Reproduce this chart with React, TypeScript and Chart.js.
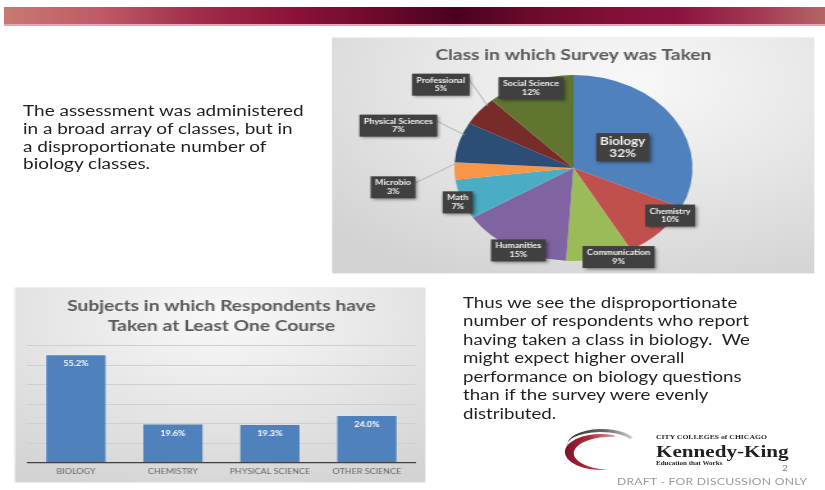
import React, { useEffect, useRef } from "react";
import { Chart, registerables } from "chart.js";

Chart.register(...registerables);

// ---- data ----
const pieTitle = "Class in which Survey was Taken";
const pieCategories = [
  "Biology",
  "Chemistry",
  "Communication",
  "Humanities",
  "Math",
  "Microbio",
  "Physical Sciences",
  "Professional",
  "Social Science",
];
const pieValues = [32, 10, 9, 15, 7, 3, 7, 5, 12];

const barTitle = ["Subjects in which Respondents have", "Taken at Least One Course"];
const barCategories = ["BIOLOGY", "CHEMISTRY", "PHYSICAL SCIENCE", "OTHER SCIENCE"];
const barValues = [55.2, 19.6, 19.3, 24.0];
const barAxisMax = 60;
const barAxisStep = 10;

// ---- styles / placement (not data) ----
const STRETCH = 1.28;
const pieColors = [
  "#4f81bd",
  "#c0504d",
  "#9bbb59",
  "#8064a2",
  "#4bacc6",
  "#f79646",
  "#2c4d75",
  "#772c2a",
  "#5f7530",
];
const pieLabelRadius = [0.47, 0.96, 1.03, 1.0, 1.04, 1.53, 1.54, 1.43, 0.93];
const pieLabelShift = [4, -11, -9, -3, -1, -6, 1, 1, -1];
const FONT = "Lato, 'Noto Sans', sans-serif";

const pieLabelPlugin = {
  id: "pieLabels",
  afterDatasetsDraw(chart: any) {
    const ctx = chart.ctx as CanvasRenderingContext2D;
    const meta = chart.getDatasetMeta(0);
    const total = pieValues.reduce((a, b) => a + b, 0);
    meta.data.forEach((arc: any, i: number) => {
      const p = arc.getProps(["x", "y", "startAngle", "endAngle", "outerRadius"], true);
      const midRaw = (p.startAngle + p.endAngle) / 2;
      const mid = midRaw + (pieLabelShift[i] * Math.PI) / 180;
      const f = pieLabelRadius[i];
      const lx = p.x + Math.cos(mid) * p.outerRadius * f;
      const ly = p.y + Math.sin(mid) * p.outerRadius * f;
      const big = i === 0;
      const fontSize = big ? 10.5 : 7;
      const lineH = big ? 12 : 8.5;
      const padX = big ? 3 : 3.5;
      const padY = big ? 2 : 2.5;
      ctx.save();
      ctx.font = `bold ${fontSize}px ${FONT}`;
      const pct = Math.round((pieValues[i] / total) * 100) + "%";
      const lines = [pieCategories[i], pct];
      const w = Math.max(...lines.map((l) => ctx.measureText(l).width)) + 2 * padX;
      const h = lines.length * lineH + 2 * padY;
      if (f > 1.2) {
        const ea = midRaw + (5 * Math.PI) / 180;
        const ex = p.x + Math.cos(ea) * p.outerRadius * 0.98;
        const ey = p.y + Math.sin(ea) * p.outerRadius * 0.98;
        const sx = lx + w / 2;
        const sy = ly - h * 0.2;
        ctx.strokeStyle = "#a6a6a6";
        ctx.lineWidth = 0.8;
        ctx.beginPath();
        ctx.moveTo(sx, sy);
        ctx.lineTo(ex, ey);
        ctx.stroke();
      }
      ctx.save();
      ctx.shadowColor = "rgba(0,0,0,0.45)";
      ctx.shadowBlur = 3;
      ctx.shadowOffsetX = 1.5;
      ctx.shadowOffsetY = 1.5;
      ctx.fillStyle = "#404040";
      ctx.fillRect(lx - w / 2, ly - h / 2, w, h);
      ctx.restore();
      ctx.fillStyle = "#f2f2f2";
      ctx.textAlign = "center";
      ctx.textBaseline = "middle";
      lines.forEach((l, k) => {
        ctx.fillText(l, lx, ly - h / 2 + padY + lineH * (k + 0.5));
      });
      ctx.restore();
    });
  },
};

const barValuePlugin = {
  id: "barValues",
  afterDatasetsDraw(chart: any) {
    const ctx = chart.ctx as CanvasRenderingContext2D;
    const meta = chart.getDatasetMeta(0);
    ctx.save();
    ctx.font = `bold 7px ${FONT}`;
    ctx.fillStyle = "#ffffff";
    ctx.textAlign = "center";
    ctx.textBaseline = "middle";
    meta.data.forEach((bar: any, i: number) => {
      ctx.fillText(barValues[i].toFixed(1) + "%", bar.x, bar.y + 9);
    });
    ctx.restore();
  },
};

const abs = (left: number, top: number, extra: React.CSSProperties = {}): React.CSSProperties => ({
  position: "absolute",
  left,
  top,
  ...extra,
});

export default function App() {
  const pieRef = useRef<HTMLCanvasElement>(null);
  const barRef = useRef<HTMLCanvasElement>(null);

  useEffect(() => {
    const pie = new Chart(pieRef.current as HTMLCanvasElement, {
      type: "pie",
      data: {
        labels: pieCategories,
        datasets: [{ data: pieValues, backgroundColor: pieColors, borderWidth: 0 }],
      },
      options: {
        responsive: false,
        animation: false,
        layout: { padding: { top: 0, bottom: 12, left: 0, right: 0 } },
        plugins: {
          legend: { display: false },
          tooltip: { enabled: false },
          title: {
            display: true,
            text: pieTitle,
            color: "#595959",
            font: { family: FONT, size: 15, weight: "bold", lineHeight: 1.2 },
            padding: { top: 8, bottom: 11 },
          },
        },
      },
      plugins: [pieLabelPlugin],
    } as any);

    const bar = new Chart(barRef.current as HTMLCanvasElement, {
      type: "bar",
      data: {
        labels: barCategories,
        datasets: [
          {
            data: barValues,
            backgroundColor: "#4f81bd",
            borderWidth: 0,
            barPercentage: 0.61,
            categoryPercentage: 1,
          },
        ],
      },
      options: {
        responsive: false,
        animation: false,
        layout: { padding: { left: 9.4, right: 7.5, top: 0, bottom: 2 } },
        plugins: {
          legend: { display: false },
          tooltip: { enabled: false },
          title: {
            display: true,
            text: barTitle,
            color: "#595959",
            font: { family: FONT, size: 15, weight: "bold", lineHeight: 1.33 },
            padding: { top: 8, bottom: 10 },
          },
        },
        scales: {
          x: {
            grid: { display: false, drawTicks: false },
            border: { display: true, color: "#404040", width: 1.2 },
            ticks: {
              color: "#666666",
              font: { family: FONT, size: 7 },
              padding: 4.5,
              maxRotation: 0,
              autoSkip: false,
            },
          },
          y: {
            min: 0,
            max: barAxisMax,
            ticks: { stepSize: barAxisStep, display: false },
            grid: { color: "#cfcfcf", drawTicks: false, lineWidth: 1 },
            border: { display: false },
          },
        },
      },
      plugins: [barValuePlugin],
    } as any);

    return () => {
      pie.destroy();
      bar.destroy();
    };
  }, []);

  const textStyle: React.CSSProperties = {
    fontFamily: FONT,
    color: "#1f1f1f",
    whiteSpace: "nowrap",
  };

  return (
    <div style={{ position: "absolute", left: 0, top: 0, width: 825, height: 490, overflow: "hidden", background: "#fff" }}>
      {/* banner */}
      <div
        style={abs(4, 7, {
          width: 821,
          height: 17,
          background:
            "linear-gradient(to right, #c97873 0%, #bd5a66 12%, #a02b4a 24%, #8b1038 36%, #6a0a2c 46%, #4c0020 55%, #6a0a2c 64%, #820f38 74%, #8c1240 82%, #a33a55 92%, #b46565 100%)",
        })}
      />
      <div style={abs(4, 24, { width: 821, height: 1.5, background: "#e6a3b4" })} />

      {/* logo swoosh */}
      <svg style={abs(560, 428, {})} width={85} height={48} viewBox="560 428 85 48">
        <defs>
          <linearGradient id="red" x1="0" y1="0" x2="1" y2="0">
            <stop offset="0" stopColor="#7a1426" />
            <stop offset="0.5" stopColor="#b5283a" />
            <stop offset="1" stopColor="#d9a0a8" />
          </linearGradient>
          <linearGradient id="grey" x1="0" y1="0" x2="1" y2="0">
            <stop offset="0" stopColor="#2b2b2b" />
            <stop offset="0.6" stopColor="#6b6b6b" />
            <stop offset="1" stopColor="#d0d0d0" />
          </linearGradient>
        </defs>
        <path d="M 613.3 435.1 A 36 18 0 1 0 607.3 469.7 A 32 14 0 1 1 615.9 436.8 Z" fill="url(#red)" />
        <path d="M 633 437.5 A 33 15 0 0 0 571 452 A 30 12 0 0 1 630 439 Z" fill="url(#grey)" />
      </svg>

      {/* stretched slide content */}
      <div
        style={{
          position: "absolute",
          left: 0,
          top: 0,
          width: 825 / STRETCH,
          height: 490,
          transform: `scaleX(${STRETCH})`,
          transformOrigin: "0 0",
        }}
      >
        <div style={abs(18, 102, { ...textStyle, fontSize: 14.8, lineHeight: "17.8px" })}>
          The assessment was administered
          <br />
          in a broad array of classes, but in
          <br />
          a disproportionate number of
          <br />
          biology classes.
        </div>

        <div style={abs(361.7, 293.7, { ...textStyle, fontSize: 14.6, lineHeight: "18.5px" })}>
          Thus we see the disproportionate
          <br />
          number of respondents who report
          <br />
          having taken a class in biology.&nbsp; We
          <br />
          might expect higher overall
          <br />
          performance on biology questions
          <br />
          than if the survey were evenly
          <br />
          distributed.
        </div>

        {/* pie chart box */}
        <div
          style={abs(260.2, 38, {
            width: 376,
            height: 235,
            background:
              "radial-gradient(ellipse 85% 95% at 62% 18%, #f8f8f8 0%, #e8e8e8 45%, #d2d2d2 100%)",
            boxShadow: "0 0 1.5px rgba(0,0,0,0.25)",
          })}
        >
          <canvas ref={pieRef} width={376} height={235} style={{ display: "block" }} />
        </div>

        {/* bar chart box */}
        <div
          style={abs(11.7, 288, {
            width: 320,
            height: 194,
            background:
              "radial-gradient(ellipse 85% 95% at 50% 15%, #f8f8f8 0%, #e6e6e6 50%, #d3d3d3 100%)",
            boxShadow: "0 0 1.5px rgba(0,0,0,0.25)",
          })}
        >
          <canvas ref={barRef} width={320} height={194} style={{ display: "block" }} />
        </div>

        {/* logo text */}
        <div
          style={abs(512.5, 433, {
            fontFamily: "'Liberation Serif', serif",
            fontSize: 6,
            fontWeight: "bold",
            color: "#231f20",
            whiteSpace: "nowrap",
            lineHeight: "8px",
          })}
        >
          CITY COLLEGES of CHICAGO
        </div>
        <div
          style={abs(512.5, 441.5, {
            fontFamily: "'Liberation Serif', serif",
            fontSize: 16.5,
            fontWeight: "bold",
            color: "#231f20",
            whiteSpace: "nowrap",
            lineHeight: "20px",
          })}
        >
          Kennedy-King
        </div>
        <div
          style={abs(512.5, 459.5, {
            fontFamily: "'Liberation Serif', serif",
            fontSize: 5.5,
            fontWeight: "bold",
            color: "#231f20",
            whiteSpace: "nowrap",
            lineHeight: "7px",
          })}
        >
          Education that Works
        </div>
        <div
          style={abs(611, 463, {
            fontFamily: FONT,
            fontSize: 8,
            color: "#7f7f7f",
            lineHeight: "10px",
          })}
        >
          2
        </div>
        <div
          style={abs(482, 476, {
            fontFamily: FONT,
            fontSize: 9.5,
            color: "#9a9a9a",
            whiteSpace: "nowrap",
            lineHeight: "12px",
            letterSpacing: 0.2,
          })}
        >
          DRAFT - FOR DISCUSSION ONLY
        </div>
      </div>
    </div>
  );
}
